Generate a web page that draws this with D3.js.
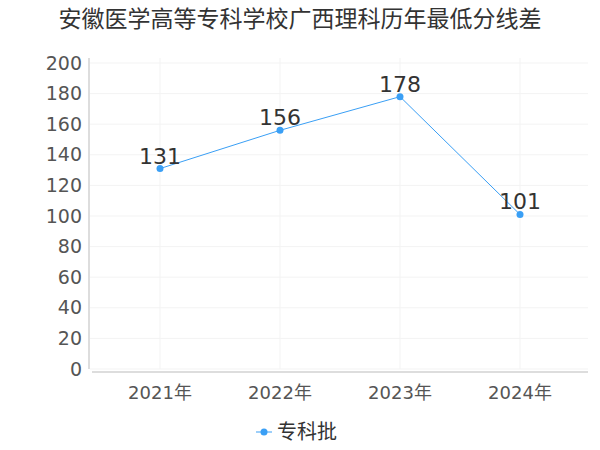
<!DOCTYPE html>
<html><head><meta charset="utf-8">
<script src="https://cdn.jsdelivr.net/npm/d3@7"></script>
<style>body{margin:0;background:#fff}</style></head>
<body><svg id="c" width="600" height="450"></svg>
<script>
const categories=["2021年","2022年","2023年","2024年"];
const values=[131,156,178,101];
const yTicks=[0,20,40,60,80,100,120,140,160,180,200];
const seriesName="专科批";
const title="安徽医学高等专科学校广西理科历年最低分线差";
const color="#3a9ff5";
const font="'DejaVu Sans','Noto Sans CJK SC',sans-serif";
const svg=d3.select("#c");
const x=d3.scalePoint().domain(categories).range([160,520]);
const y=d3.scaleLinear().domain([0,200]).range([369,63]);
svg.append("text").attr("x",300).attr("y",27).attr("text-anchor","middle").attr("font-family",font).attr("font-size",23).attr("fill","#333").text(title);
svg.append("g").selectAll("line").data(yTicks).join("line").attr("x1",90).attr("x2",588).attr("y1",d=>y(d)).attr("y2",d=>y(d)).attr("stroke","#f3f3f3");
svg.append("g").selectAll("line").data(categories).join("line").attr("x1",d=>x(d)).attr("x2",d=>x(d)).attr("y1",58).attr("y2",369).attr("stroke","#f3f3f3");
svg.append("line").attr("x1",89).attr("x2",89).attr("y1",58).attr("y2",369).attr("stroke","#bbb");
svg.append("line").attr("x1",92).attr("x2",588).attr("y1",372).attr("y2",372).attr("stroke","#bbb");
svg.append("g").selectAll("text").data(yTicks).join("text").attr("x",82).attr("y",d=>y(d)).attr("dy","0.35em").attr("text-anchor","end").attr("font-family",font).attr("font-size",19).attr("fill","#555").text(d=>d);
svg.append("g").selectAll("text").data(categories).join("text").attr("x",d=>x(d)).attr("y",399).attr("text-anchor","middle").attr("font-family",font).attr("font-size",18).attr("fill","#555").text(d=>d);
const line=d3.line().x((d,i)=>x(categories[i])).y(d=>y(d));
svg.append("path").datum(values).attr("d",line).attr("fill","none").attr("stroke",color).attr("stroke-width",1);
svg.append("g").selectAll("circle").data(values).join("circle").attr("cx",(d,i)=>x(categories[i])).attr("cy",d=>y(d)).attr("r",3.5).attr("fill",color);
svg.append("g").selectAll("text").data(values).join("text").attr("x",(d,i)=>x(categories[i])).attr("y",d=>y(d)-5).attr("text-anchor","middle").attr("font-family",font).attr("font-size",22).attr("fill","#333").text(d=>d);
svg.append("line").attr("x1",256).attr("x2",272).attr("y1",432).attr("y2",432).attr("stroke",color);
svg.append("circle").attr("cx",264).attr("cy",432).attr("r",3.5).attr("fill",color);
svg.append("text").attr("x",277).attr("y",432).attr("dy","0.35em").attr("font-family",font).attr("font-size",20).attr("fill","#333").text(seriesName);
</script></body></html>
